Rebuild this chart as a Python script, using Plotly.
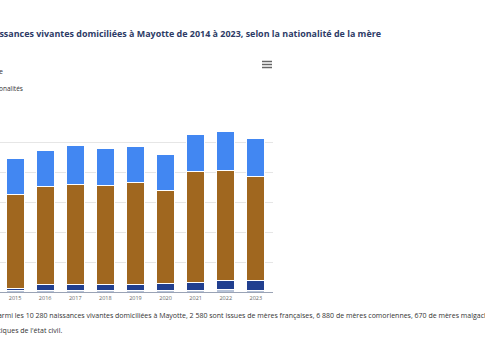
import plotly.graph_objects as go

years = [2015, 2016, 2017, 2018, 2019, 2020, 2021, 2022, 2023]
autres = [100, 120, 120, 120, 130, 140, 150, 160, 150]
malgache = [180, 410, 370, 370, 420, 460, 520, 660, 670]
comorienne = [6220, 6510, 6670, 6600, 6760, 6220, 7370, 7270, 6880]
francaise = [2420, 2440, 2600, 2470, 2440, 2380, 2510, 2640, 2580]

series = [
    ("Autres nationalités", autres, "#b8c4d8"),
    ("Malgache", malgache, "#213f8f"),
    ("Comorienne", comorienne, "#a0671f"),
    ("Française", francaise, "#4287f2"),
]

W, H = 485, 360
def px(x):
    return x / W
def py(y):
    return 1 - y / H

fig = go.Figure()
for name, vals, col in series:
    fig.add_trace(go.Bar(x=years, y=vals, name=name, marker=dict(color=col, line=dict(color="white", width=1)),
                         hoverinfo="skip"))

font = "Open Sans"
note_size = 7
ann = []
ann.append(dict(text="<b>Naissances vivantes domiciliées à Mayotte de 2014 à 2023, selon la nationalité de la mère</b>",
                x=px(383), y=py(33), xref="paper", yref="paper", xanchor="right", yanchor="middle",
                showarrow=False, font=dict(family=font, size=8.95, color="#2d3b66")))
ann.append(dict(text="Malgache", x=px(5), y=py(72), xref="paper", yref="paper", xanchor="right", yanchor="middle",
                showarrow=False, font=dict(family=font, size=6.5, color="#333333")))
ann.append(dict(text="Autres nationalités", x=px(25), y=py(88), xref="paper", yref="paper", xanchor="right", yanchor="middle",
                showarrow=False, font=dict(family=font, size=6.5, color="#333333")))
ann.append(dict(text="Lecture : en 2023, parmi les 10 280 naissances vivantes domiciliées à Mayotte, 2 580 sont issues de mères françaises, 6 880 de mères comoriennes, 670 de mères malgaches et 150 de mères d'autres nationalités.",
                x=px(-68), y=py(315), xref="paper", yref="paper", xanchor="left", yanchor="middle",
                showarrow=False, font=dict(family=font, size=note_size, color="#333333")))
ann.append(dict(text="Champ : Mayotte.", x=px(2), y=py(322.5), xref="paper", yref="paper", xanchor="right", yanchor="middle",
                showarrow=False, font=dict(family=font, size=note_size, color="#333333")))
ann.append(dict(text="Source : Insee, statistiques de l'état civil.", x=px(64), y=py(330), xref="paper", yref="paper",
                xanchor="right", yanchor="middle",
                showarrow=False, font=dict(family=font, size=note_size, color="#333333")))

shapes = []
for yy in (61.5, 64.5, 67.5):
    shapes.append(dict(type="line", xref="paper", yref="paper", x0=px(262), x1=px(272), y0=py(yy), y1=py(yy),
                       line=dict(color="#666666", width=1.5)))

fig.update_layout(
    width=W, height=H, barmode="stack", bargap=0.4,
    margin=dict(l=0, r=0, t=0, b=0),
    paper_bgcolor="white", plot_bgcolor="white",
    showlegend=False,
    annotations=ann, shapes=shapes,
    xaxis=dict(domain=[0, 273 / W], range=[2014.5, 2023.57], tickmode="array", tickvals=years,
               ticktext=[str(y) for y in years], showgrid=False, zeroline=False,
               showline=True, linecolor="#9aa3b5", linewidth=1, ticks="",
               tickfont=dict(family=font, size=5.5, color="#666666")),
    yaxis=dict(domain=[1 - 292.3 / H, 1 - 112.3 / H], range=[0, 12000], dtick=2000, showticklabels=False,
               showgrid=True, gridcolor="#e6e6e6", gridwidth=1, zeroline=False),
)

fig.write_html("out.html", config={"displayModeBar": False},
               post_script="document.body.style.margin='0px';document.body.style.padding='0px';")
